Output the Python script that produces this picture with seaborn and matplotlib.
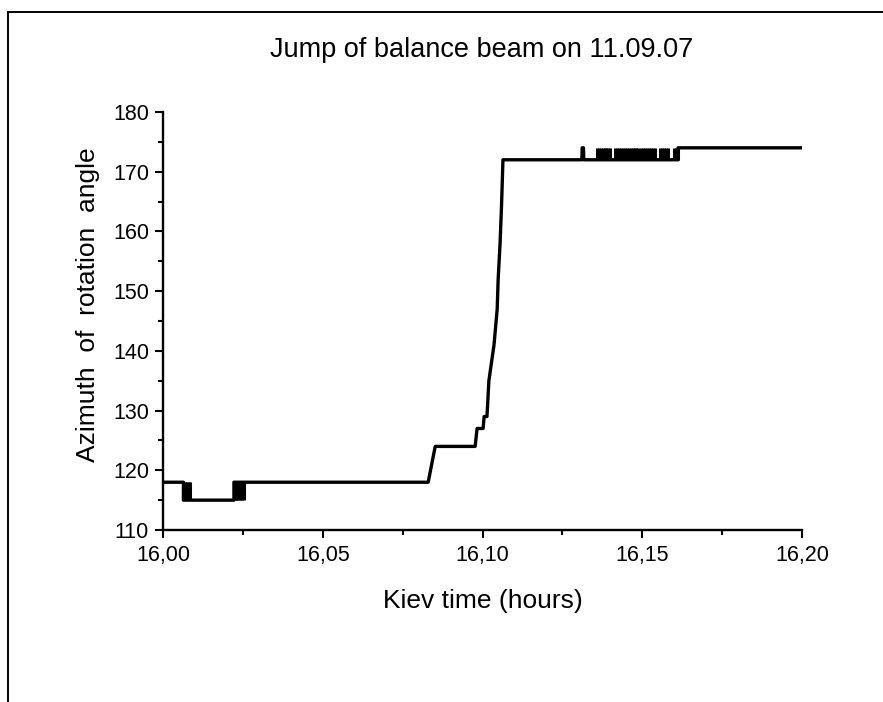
import matplotlib
matplotlib.use("Agg")
import matplotlib.pyplot as plt
import matplotlib.ticker as mticker
from matplotlib.lines import Line2D
import pandas as pd
import seaborn as sns

# ---------------- DATA ----------------
# vertices of the azimuth trace, Kiev time in hours
time_h = [16.0000, 16.0064, 16.0064, 16.0222, 16.0222, 16.0830, 16.0852,
          16.0977, 16.0983, 16.1002, 16.1005, 16.1014, 16.1020, 16.1036,
          16.1046, 16.1049, 16.1055, 16.1060, 16.1064, 16.1311, 16.1312,
          16.1316, 16.1317, 16.1612, 16.1612, 16.2000]
angle_deg = [118, 118, 115, 115, 118, 118, 124,
             124, 127, 127, 129, 129, 135, 141,
             147, 152, 158, 165, 172, 172, 174,
             174, 172, 172, 174, 174]

# short 115 <-> 118 flicker near the start
dip_times = [16.0064, 16.0068, 16.0072, 16.0076, 16.0080, 16.0084,
             16.0224, 16.0228, 16.0232, 16.0236, 16.0240, 16.0244,
             16.0248, 16.0252]
dip_low, dip_high = 115, 118

# dense 172 <-> 174 flicker after the jump
flicker_times = [16.1358, 16.1364, 16.1370, 16.1376, 16.1382, 16.1388, 16.1394, 16.1400,
                 16.1416, 16.1422, 16.1428, 16.1434, 16.1440, 16.1446, 16.1452, 16.1458,
                 16.1464, 16.1470, 16.1476, 16.1482, 16.1487,
                 16.1497, 16.1503, 16.1509, 16.1515, 16.1521, 16.1527, 16.1533, 16.1539,
                 16.1557, 16.1563, 16.1569, 16.1575, 16.1581,
                 16.1600, 16.1606, 16.1612]
flicker_low, flicker_high = 172, 174

x_ticks = [16.00, 16.05, 16.10, 16.15, 16.20]
x_tick_labels = ["16,00", "16,05", "16,10", "16,15", "16,20"]
y_ticks = [110, 120, 130, 140, 150, 160, 170, 180]

# ---------------- STYLE ----------------
sns.set_style("ticks")
plt.rcParams["font.family"] = ["Liberation Sans", "DejaVu Sans"]
plt.rcParams["text.color"] = "black"

fig = plt.figure(figsize=(8.83, 7.02), dpi=100)
ax = fig.add_axes([163 / 883, 1 - 530 / 702, 639 / 883, 418 / 702])

df = pd.DataFrame({"time": time_h, "angle": angle_deg})
sns.lineplot(data=df, x="time", y="angle", sort=False, estimator=None,
             color="black", lw=2.4, ax=ax)
ax.vlines(dip_times, dip_low, dip_high, color="black", lw=2.2)
ax.vlines(flicker_times, flicker_low, flicker_high, color="black", lw=2.2)

ax.set_xlim(16.0, 16.2)
ax.set_ylim(110, 180)
ax.set_xticks(x_ticks)
ax.set_xticklabels(x_tick_labels)
ax.set_yticks(y_ticks)
ax.xaxis.set_minor_locator(mticker.MultipleLocator(0.025))
ax.yaxis.set_minor_locator(mticker.MultipleLocator(5))
ax.set_xlabel("")
ax.set_ylabel("")

sns.despine(ax=ax)
for side in ["left", "bottom"]:
    ax.spines[side].set_linewidth(1.7)
    ax.spines[side].set_color("black")
ax.tick_params(which="major", length=6, width=1.5, direction="out",
               labelsize=15.5, colors="black", labelcolor="black")
ax.tick_params(which="minor", length=3.5, width=1.5, direction="out", colors="black")
ax.tick_params(axis="x", which="major", pad=5)
ax.tick_params(axis="y", which="major", pad=4)

# ---------------- TEXT ----------------
fig.text(482 / 883, 1 - 50 / 702, "Jump of balance beam on 11.09.07",
         ha="center", va="center", fontsize=19.5, color="black")
fig.text(483 / 883, 1 - 601 / 702, "Kiev time (hours)",
         ha="center", va="center", fontsize=19, color="black")
fig.text(88 / 883, 1 - 305 / 702, "Azimuth  of  rotation  angle",
         ha="center", va="center", rotation=90, fontsize=19, color="black")

# page frame (only top and left edges visible)
fig.add_artist(Line2D([8 / 883, 1.0], [1 - 12 / 702, 1 - 12 / 702],
                      transform=fig.transFigure, color="black", lw=1.4))
fig.add_artist(Line2D([8 / 883, 8 / 883], [0.0, 1 - 12 / 702],
                      transform=fig.transFigure, color="black", lw=1.4))

fig.savefig("out.png", dpi=100)
